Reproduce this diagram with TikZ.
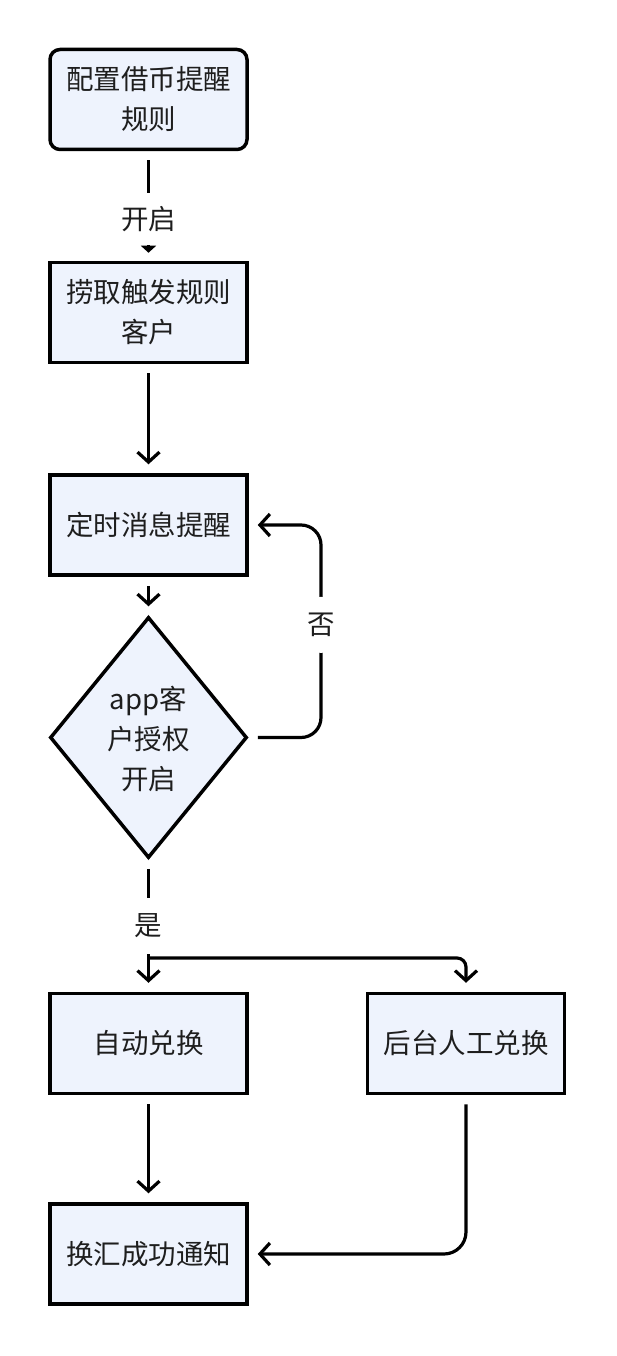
\documentclass[tikz,border=0pt]{standalone}
\usepackage{fontspec}
\setmainfont{Noto Sans CJK SC}
\usetikzlibrary{shapes.geometric,arrows.meta}
\definecolor{boxfill}{RGB}{238,243,253}
\definecolor{ink}{RGB}{30,30,30}
\begin{document}
\begin{tikzpicture}[x=1pt,y=-1pt,
  font=\fontsize{27.5}{40}\selectfont,
  every node/.style={text=ink},
  stepbox/.style={draw=black, line width=3.5pt, fill=boxfill, minimum width=197pt, minimum height=100pt, inner sep=0pt, align=center},
  decision/.style={draw=black, line width=3.5pt, fill=boxfill, diamond, aspect=0.82, minimum width=197pt, minimum height=241pt, inner sep=0pt},
  conn/.style={draw=black, line width=3.2pt, shorten <=9pt, shorten >=9pt, -{Straight Barb[length=10pt,width=22pt,line width=3.2pt]}},
  lbl/.style={fill=white, inner sep=0pt, minimum width=40pt, minimum height=56pt}
]
\useasboundingbox (0,0) rectangle (616,1356);

% process steps
\node[stepbox, rounded corners=10pt] (b1) at (148.5,99.5) {配置借币提醒\\规则};
\node[stepbox] (b2) at (148.5,312.5) {捞取触发规则\\客户};
\node[stepbox] (b3) at (148.5,525) {定时消息提醒};
\node[decision] (d) at (148.5,737.5) {};
\node[align=center] (dtext) at (148.5,739) {app客\\户授权\\开启};
\node[stepbox] (b4) at (148.5,1043.5) {自动兑换};
\node[stepbox] (b5) at (466,1043.5) {后台人工兑换};
\node[stepbox] (b6) at (148.5,1254) {换汇成功通知};

% helper points for the routed connectors
\coordinate (loop) at (321,0);
\coordinate (split) at (148.5,958);

% connectors
\draw[conn, shorten <=9pt, shorten >=8pt, -{Triangle[length=7pt,width=15pt]}]
  (b1) -- node[lbl, pos=0.62, minimum height=52pt] {开启} (b2);
\draw[conn] (b2) -- (b3);
\draw[conn] (b3) -- (d);
\draw[conn, rounded corners=20pt]
  (d.east) -- (d.east -| loop)
  -- node[lbl, pos=0.53] {否} (b3.east -| loop) -- (b3.east);
\draw[conn] (d) -- node[lbl, pos=0.5] {是} (b4);
\draw[conn, shorten <=0pt, rounded corners=9pt] (split) -| (b5.north);
\draw[conn] (b4) -- (b6);
\draw[conn, rounded corners=22pt] (b5.south) |- (b6.east);
\end{tikzpicture}
\end{document}
